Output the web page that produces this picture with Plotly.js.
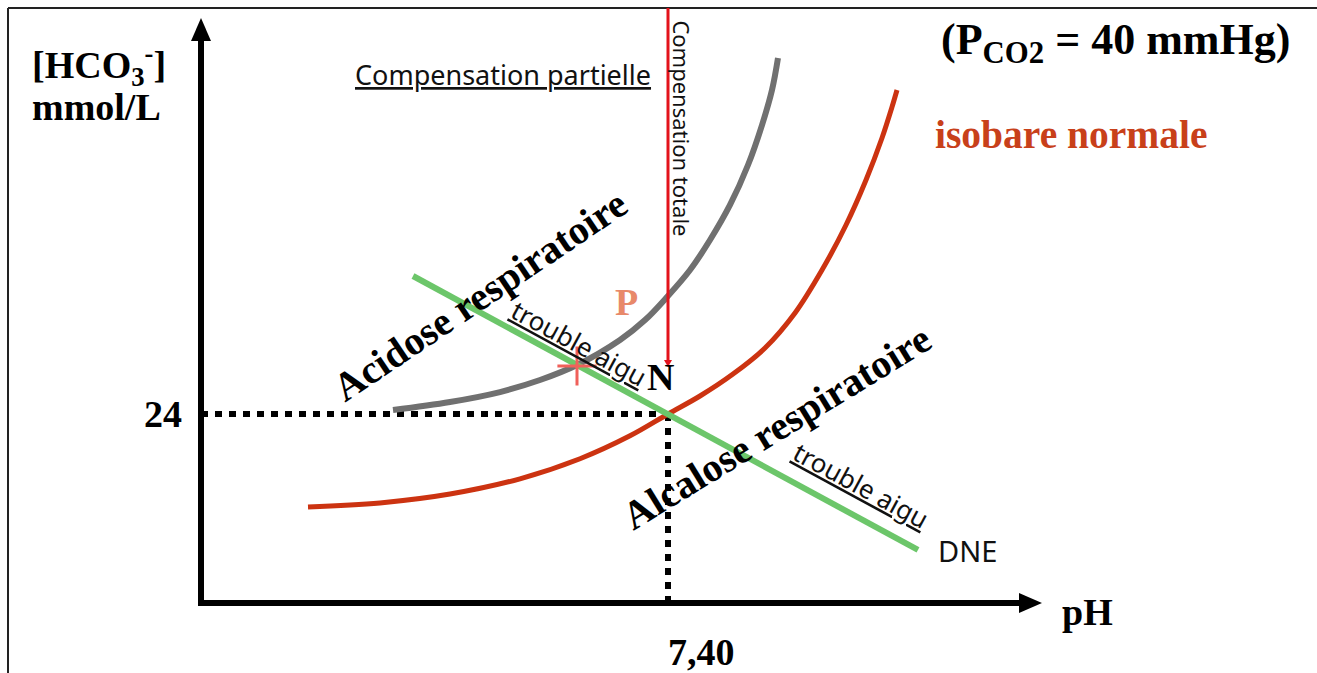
<!DOCTYPE html>
<html><head><meta charset="utf-8">
<script src="https://cdn.plot.ly/plotly-3.0.1.min.js"></script>
<style>html,body{margin:0;padding:0;background:#fff}#chart{width:1317px;height:673px}</style>
</head><body><div id="chart"></div>
<script>
// ---- data (pH, [HCO3-] mmol/L) ----
// normal isobar, PCO2 = 40 mmHg
const isoNormPH   = [7.040, 7.112, 7.182, 7.252, 7.312, 7.362, 7.400, 7.432, 7.465, 7.497, 7.527, 7.554, 7.578, 7.598, 7.614, 7.624, 7.629];
const isoNormHCO3 = [16.25, 16.59, 17.33, 18.60, 20.27, 22.18, 24.00, 25.50, 27.33, 29.50, 32.42, 36.00, 39.75, 43.50, 47.00, 49.58, 51.00];
// raised PCO2 isobar (respiratory acidosis)
const isoHighPH   = [7.125, 7.182, 7.232, 7.272, 7.309, 7.352, 7.377, 7.399, 7.422, 7.442, 7.462, 7.480, 7.494, 7.504, 7.510];
const isoHighHCO3 = [24.33, 25.00, 25.83, 26.83, 28.08, 30.17, 31.83, 33.75, 36.00, 38.50, 41.42, 44.75, 48.08, 51.00, 53.67];
// normal buffer line (DNE)
const dnePH   = [7.145, 7.650];
const dneHCO3 = [35.50, 12.67];
// normal point N and acute point P
const normalPH = 7.40, normalHCO3 = 24;
const pointPH = [7.309], pointHCO3 = [28.0];
// tick labels
const xTickLabel = '7,40', yTickLabel = '24';

// ---- frame (data units) ----
const X_RANGE = [6.732, 8.049], Y_RANGE = [2.4167, 58.5];
const PX_X = (X_RANGE[1]-X_RANGE[0])/1317;   // pH per pixel
const PX_Y = (Y_RANGE[1]-Y_RANGE[0])/673;    // mmol/L per pixel
const AXIS_X = 6.933, AXIS_Y = 8.25, X_TIP = 7.774, Y_TIP = 57.0;
const TOP_Y = 57.83, RED_END = 27.92, DOT_END = 8.5;

const serif = 'Liberation Serif, Times New Roman, serif';
const sans = 'Noto Sans, Open Sans, sans-serif';

const traces = [
  {x: isoNormPH, y: isoNormHCO3, mode: 'lines', line: {color: '#CC3311', width: 5, shape: 'spline', smoothing: 1}, hoverinfo: 'skip'},
  {x: isoHighPH, y: isoHighHCO3, mode: 'lines', line: {color: '#707070', width: 6, shape: 'spline', smoothing: 1}, hoverinfo: 'skip'},
  {x: dnePH, y: dneHCO3, mode: 'lines', line: {color: '#6CC66A', width: 6}, hoverinfo: 'skip'},
  {x: pointPH, y: pointHCO3, mode: 'markers', marker: {symbol: 'cross-thin', size: 28, line: {color: '#F0605A', width: 3}}, hoverinfo: 'skip'}
];

const hw = 10, hl = 23; // arrow head half-width and length in pixels
const shapes = [
  // frame border of the picture
  {type: 'line', xref: 'paper', yref: 'paper', x0: 8/1317, x1: 1, y0: 1-8/673, y1: 1-8/673, line: {color: '#222', width: 2}},
  {type: 'line', xref: 'paper', yref: 'paper', x0: 8/1317, x1: 8/1317, y0: 0, y1: 1-8/673, line: {color: '#222', width: 2}},
  // dotted guides
  {type: 'line', x0: AXIS_X, x1: normalPH, y0: normalHCO3, y1: normalHCO3, line: {color: '#000', width: 6, dash: '7px,7px'}, layer: 'below'},
  {type: 'line', x0: normalPH, x1: normalPH, y0: normalHCO3, y1: DOT_END, line: {color: '#000', width: 6, dash: '7px,7px'}, layer: 'below'},
  // red vertical "compensation totale"
  {type: 'line', x0: normalPH, x1: normalPH, y0: TOP_Y, y1: RED_END + 5*PX_Y, line: {color: '#E3131B', width: 3}},
  {type: 'path', path: `M ${normalPH-4*PX_X} ${RED_END+7*PX_Y} L ${normalPH} ${RED_END} L ${normalPH+4*PX_X} ${RED_END+7*PX_Y} Z`, fillcolor: '#E3131B', line: {width: 0}},
  // axes with arrow heads
  {type: 'line', x0: AXIS_X, x1: AXIS_X, y0: AXIS_Y - 3*PX_Y, y1: Y_TIP - hl*PX_Y + 1*PX_Y, line: {color: '#000', width: 6}},
  {type: 'path', path: `M ${AXIS_X-hw*PX_X} ${Y_TIP-hl*PX_Y} L ${AXIS_X} ${Y_TIP} L ${AXIS_X+hw*PX_X} ${Y_TIP-hl*PX_Y} Z`, fillcolor: '#000', line: {width: 0}},
  {type: 'line', x0: AXIS_X - 3*PX_X, x1: X_TIP - hl*PX_X + 1*PX_X, y0: AXIS_Y, y1: AXIS_Y, line: {color: '#000', width: 6}},
  {type: 'path', path: `M ${X_TIP-hl*PX_X} ${AXIS_Y+hw*PX_Y} L ${X_TIP} ${AXIS_Y} L ${X_TIP-hl*PX_X} ${AXIS_Y-hw*PX_Y} Z`, fillcolor: '#000', line: {width: 0}}
];

function ann(x, y, text, size, opts) {
  return Object.assign({x: x, y: y, text: text, showarrow: false, xanchor: 'center', yanchor: 'middle',
    font: {family: serif, size: size, color: '#000'}}, opts || {});
}
const sansFont = (s) => ({family: sans, size: s, color: '#111'});
const annotations = [
  ann(6.762, 53.1, '<b>[HCO<sub>3</sub><sup>-</sup>]</b>', 38, {xanchor: 'left'}),
  ann(6.762, 49.6, '<b>mmol/L</b>', 38, {xanchor: 'left'}),
  ann(7.847, 55.0, '<b>(P<sub>CO2</sub> = 40 mmHg)</b>', 44),
  ann(7.803, 47.25, '<b>isobare normale</b>', 39.5, {font: {family: serif, size: 39.5, color: '#C8401A'}}),
  ann(7.235, 52.3, '<u>Compensation partielle</u>', 27, {font: sansFont(27)}),
  ann(7.414, 47.8, 'Compensation totale', 22, {textangle: 90, font: sansFont(22)}),
  ann(7.212, 33.9, '<b>Acidose respiratoire</b>', 40, {textangle: -34}),
  ann(7.508, 22.9, '<b>Alcalose respiratoire</b>', 40, {textangle: -31.5}),
  ann(7.311, 29.95, '<u>trouble aigu</u>', 26, {textangle: 28.5, font: sansFont(26)}),
  ann(7.593, 18.1, '<u>trouble aigu</u>', 26, {textangle: 28.5, font: sansFont(26)}),
  ann(7.699, 12.6, 'DNE', 29, {font: sansFont(29)}),
  ann(7.392, 27.1, '<b>N</b>', 38),
  ann(7.358, 33.3, '<b>P</b>', 38, {font: {family: serif, size: 38, color: '#E8896A'}}),
  ann(6.895, normalHCO3, '<b>' + yTickLabel + '</b>', 38),
  ann(7.433, 4.2, '<b>' + xTickLabel + '</b>', 38),
  ann(7.819, 7.5, '<b>pH</b>', 38)
];

const layout = {
  width: 1317, height: 673, margin: {l: 0, r: 0, t: 0, b: 0},
  paper_bgcolor: '#fff', plot_bgcolor: '#fff', showlegend: false,
  xaxis: {range: X_RANGE, visible: false, fixedrange: true},
  yaxis: {range: Y_RANGE, visible: false, fixedrange: true},
  shapes: shapes, annotations: annotations
};
Plotly.newPlot('chart', traces, layout, {staticPlot: true, displayModeBar: false});
</script>
</body></html>
